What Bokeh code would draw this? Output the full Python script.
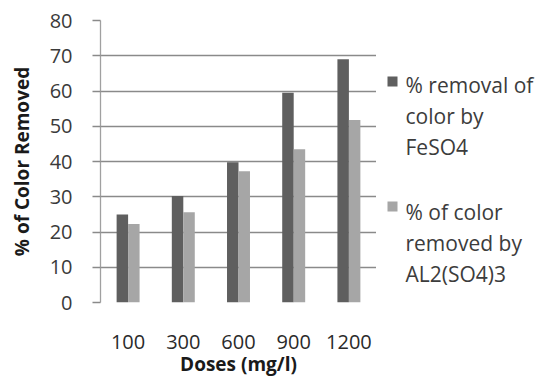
from bokeh.plotting import figure
from bokeh.layouts import row
from bokeh.models import ColumnDataSource, FactorRange, FixedTicker, Range1d
from bokeh.core.properties import value
from bokeh.transform import dodge
from bokeh.embed import file_html
from bokeh.resources import INLINE

# Colour removal at each coagulant dose
doses = ["100", "300", "600", "900", "1200"]
feso4 = [25.0, 30.2, 39.8, 59.5, 69.0]
al2so43 = [22.3, 25.6, 37.2, 43.5, 51.8]
series_labels = ["% removal of\ncolor by\nFeSO4", "% of color\nremoved by\nAL2(SO4)3"]
y_ticks = [0, 10, 20, 30, 40, 50, 60, 70, 80]

FONT = "Open Sans"
DARK = "#5f5f5f"
LIGHT = "#a6a6a6"
GRID = "#8a8a8a"
HEIGHT = 380
TOP, BOTTOM = 20, 78          # space above / below the plotting area
MAIN_W, LEG_W = 376, 161

source = ColumnDataSource(dict(dose=doses, feso4=feso4, al=al2so43))

p = figure(
    width=MAIN_W, height=HEIGHT,
    x_range=FactorRange(*doses, range_padding=0),
    y_range=(0, 80),
    output_backend="svg", toolbar_location=None,
    min_border_left=100, min_border_right=0,
    min_border_top=TOP, min_border_bottom=BOTTOM,
)
p.outline_line_color = None
p.background_fill_color = "white"
p.border_fill_color = "white"

bw = 0.208
p.vbar(x=dodge("dose", -bw / 2, range=p.x_range), top="feso4", width=bw,
       source=source, fill_color=DARK, line_color=None)
p.vbar(x=dodge("dose", bw / 2, range=p.x_range), top="al", width=bw,
       source=source, fill_color=LIGHT, line_color=None)

# grid
p.xgrid.grid_line_color = None
p.ygrid.ticker = FixedTicker(ticks=y_ticks)
p.ygrid.grid_line_color = GRID
p.ygrid.grid_line_width = 1.3

# y axis
p.yaxis.ticker = FixedTicker(ticks=y_ticks)
p.yaxis.axis_line_color = "#a0a0a0"
p.yaxis.axis_line_width = 1.3
p.yaxis.major_tick_out = 8
p.yaxis.major_tick_in = 0
p.yaxis.major_tick_line_color = GRID
p.yaxis.major_tick_line_width = 1.3
p.yaxis.minor_tick_line_color = None
p.yaxis.major_label_standoff = 20
p.yaxis.major_label_text_font = FONT
p.yaxis.major_label_text_font_size = "20px"
p.yaxis.major_label_text_color = "#3a3a3a"
p.yaxis.axis_label = "% of Color Removed"
p.yaxis.axis_label_text_font = FONT
p.yaxis.axis_label_text_font_style = "bold"
p.yaxis.axis_label_text_font_size = "19px"
p.yaxis.axis_label_text_color = "#1a1a1a"
p.yaxis.axis_label_standoff = 12

# x axis
p.xaxis.axis_line_color = None
p.xaxis.major_tick_line_color = None
p.xaxis.minor_tick_line_color = None
p.xaxis.major_label_standoff = 26
p.xaxis.major_label_text_font = FONT
p.xaxis.major_label_text_font_size = "20px"
p.xaxis.major_label_text_color = "#2a2a2a"
p.xaxis.axis_label = "Doses (mg/l)"
p.xaxis.axis_label_text_font = FONT
p.xaxis.axis_label_text_font_style = "bold"
p.xaxis.axis_label_text_font_size = "19px"
p.xaxis.axis_label_text_color = "#1a1a1a"
p.xaxis.axis_label_standoff = -1

# legend panel beside the chart; its ranges are page pixels (y downward)
leg = figure(
    width=LEG_W, height=HEIGHT,
    x_range=Range1d(MAIN_W, MAIN_W + LEG_W),
    y_range=Range1d(HEIGHT - BOTTOM, TOP),
    output_backend="svg", toolbar_location=None,
    min_border_left=0, min_border_right=0,
    min_border_top=TOP, min_border_bottom=BOTTOM,
)
leg.axis.visible = False
leg.grid.visible = False
leg.outline_line_color = None
leg.border_fill_color = "white"
leg.background_fill_color = "white"

LINE_GAP = 31
for colour, text, first_base, box_top in [(DARK, series_labels[0], 84, 76),
                                           (LIGHT, series_labels[1], 211, 201)]:
    leg.quad(left=387, right=397, top=box_top, bottom=box_top + 10,
             fill_color=colour, line_color=None)
    lines = text.split("\n")
    leg.text(x=[405] * len(lines), y=[first_base + i * LINE_GAP for i in range(len(lines))],
             text=lines, text_font=value(FONT), text_font_size="21px",
             text_color="#3c3c3c", text_baseline="alphabetic")

layout = row(p, leg, spacing=0)
open("out.html", "w").write(file_html(layout, INLINE))
